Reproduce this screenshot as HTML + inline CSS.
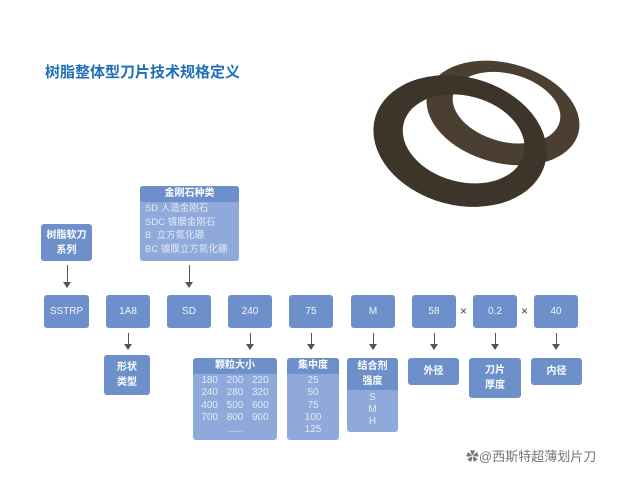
<!DOCTYPE html>
<html><head><meta charset="utf-8"><style>
body{margin:0;width:640px;height:477px;background:#fff;position:relative;overflow:hidden;font-family:"Liberation Sans","Noto Sans CJK SC",sans-serif}
.b{position:absolute;background:#6d8fca;border-radius:3px;color:#f0f4fb;font-size:10px;display:flex;align-items:center;justify-content:center;text-align:center}
.c{position:absolute;background:#8fa9da;border-radius:3px;color:#e3eaf6;font-size:10px;text-align:center;overflow:hidden}
.h{background:#6d8fca;color:#fff;font-weight:bold;font-size:10px}
.t{color:#fff;font-weight:bold;line-height:15px}
.a{position:absolute;width:1px;background:#555}
.a:after{content:"";position:absolute;left:-4px;bottom:-1px;border-left:4.5px solid transparent;border-right:4.5px solid transparent;border-top:6px solid #555}
.x{position:absolute;font-size:12px;color:#444;top:304px}
</style></head><body>
<div style="position:absolute;left:45px;top:61px;font-size:15px;font-weight:bold;color:#1f6fb8">树脂整体型刀片技术规格定义</div>
<svg style="position:absolute;left:0;top:0" width="640" height="477">
<g fill-rule="evenodd">
<path transform="rotate(15 503 113)" d="M425 113a78 50 0 1 0 156 0a78 50 0 1 0 -156 0Z M450 107a55 34 0 1 0 110 0a55 34 0 1 0 -110 0Z" fill="#4a3f30"/>
<path transform="rotate(15 460 141)" d="M372 141a88 64 0 1 0 176 0a88 64 0 1 0 -176 0Z M401 138a62 43 0 1 0 124 0a62 43 0 1 0 -124 0Z" fill="#3d342a"/>
</g></svg>
<div class="b t" style="left:41px;top:224px;width:51px;height:37px">树脂软刀<br>系列</div>
<div class="c" style="left:140px;top:186px;width:99px;height:75px;text-align:left">
<div class="h" style="text-align:center;height:16px;line-height:16px">金刚石种类</div>
<div style="padding-left:5px;line-height:13.5px;font-size:9.5px">SD 人造金刚石<br>SDC 镀膜金刚石<br>B&nbsp; 立方氮化硼<br>BC 镀膜立方氮化硼</div></div>
<div class="a" style="left:67px;top:265px;height:22px"></div>
<div class="a" style="left:189px;top:265px;height:22px"></div>
<div class="b" style="left:44px;top:295px;width:45px;height:33px">SSTRP</div>
<div class="b" style="left:106px;top:295px;width:44px;height:33px">1A8</div>
<div class="b" style="left:167px;top:295px;width:44px;height:33px">SD</div>
<div class="b" style="left:228px;top:295px;width:44px;height:33px">240</div>
<div class="b" style="left:289px;top:295px;width:44px;height:33px">75</div>
<div class="b" style="left:351px;top:295px;width:44px;height:33px">M</div>
<div class="b" style="left:412px;top:295px;width:44px;height:33px">58</div>
<div class="b" style="left:473px;top:295px;width:44px;height:33px">0.2</div>
<div class="b" style="left:534px;top:295px;width:44px;height:33px">40</div>
<div class="x" style="left:460px">×</div><div class="x" style="left:521px">×</div>
<div class="a" style="left:128px;top:333px;height:16px"></div>
<div class="a" style="left:250px;top:333px;height:16px"></div>
<div class="a" style="left:311px;top:333px;height:16px"></div>
<div class="a" style="left:373px;top:333px;height:16px"></div>
<div class="a" style="left:434px;top:333px;height:16px"></div>
<div class="a" style="left:495px;top:333px;height:16px"></div>
<div class="a" style="left:556px;top:333px;height:16px"></div>
<div class="b t" style="left:104px;top:355px;width:46px;height:40px">形状<br>类型</div>
<div class="c" style="left:193px;top:358px;width:84px;height:82px">
<div class="h" style="height:16px;line-height:16px">颗粒大小</div>
<div style="display:grid;grid-template-columns:1fr 1fr 1fr;line-height:12.3px;padding:1px 4px 0">
<span>180</span><span>200</span><span>220</span><span>240</span><span>280</span><span>320</span><span>400</span><span>500</span><span>600</span><span>700</span><span>800</span><span>900</span><span></span><span>......</span><span></span></div></div>
<div class="c" style="left:287px;top:358px;width:52px;height:82px">
<div class="h" style="height:16px;line-height:16px">集中度</div>
<div style="line-height:12.3px;padding-top:1px">25<br>50<br>75<br>100<br>125</div></div>
<div class="c" style="left:347px;top:358px;width:51px;height:74px">
<div class="h" style="height:31px;line-height:15px;padding-top:1px">结合剂<br>强度</div>
<div style="line-height:12px;padding-top:2px">S<br>M<br>H</div></div>
<div class="b t" style="left:408px;top:358px;width:51px;height:27px">外径</div>
<div class="b t" style="left:469px;top:358px;width:52px;height:40px">刀片<br>厚度</div>
<div class="b t" style="left:531px;top:358px;width:51px;height:27px">内径</div>
<div style="position:absolute;left:466px;top:446px;font-size:13px;color:#777">✿@西斯特超薄划片刀</div>
</body></html>
